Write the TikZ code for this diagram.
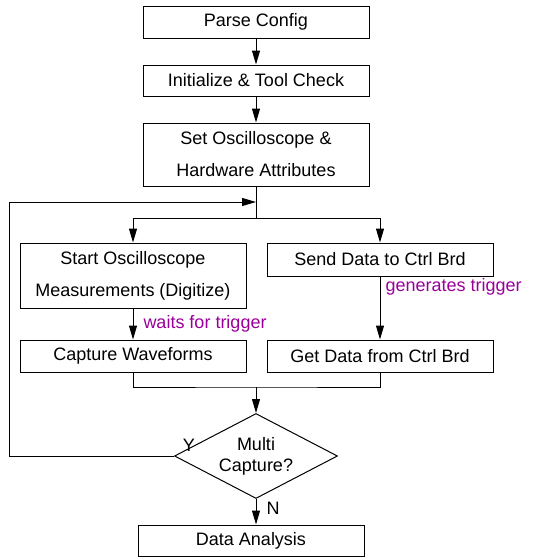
\documentclass[tikz,border=0pt]{standalone}
\usepackage{fontspec}
\setmainfont{Liberation Sans}
\usetikzlibrary{shapes.geometric,arrows.meta}
\definecolor{notecol}{RGB}{153,0,153}
\begin{document}
\begin{tikzpicture}[x=1pt,y=-1pt,line width=1pt,
  box/.style={draw,rectangle,minimum width=226pt,inner sep=0pt,align=center,font=\fontsize{18}{32}\selectfont},
  arr/.style={-{Triangle[length=14pt,width=8pt]}},
  lbl/.style={font=\fontsize{18}{22}\selectfont,inner sep=0pt},
  notelbl/.style={lbl,text=notecol,anchor=west}]
\useasboundingbox (0,0) rectangle (538,557);
\node[box,minimum height=32pt] (parse) at (256,22) {Parse Config};
\node[box,minimum height=31pt] (init) at (256,80.5) {Initialize \& Tool Check};
\node[box,minimum height=63pt] (set) at (256,154.5) {Set Oscilloscope \&\\Hardware Attributes};
\node[box,minimum height=65pt] (start) at (133,275.5) {Start Oscilloscope\\Measurements (Digitize)};
\node[box,minimum height=33pt] (send) at (380,259.5) {Send Data to Ctrl Brd};
\node[box,minimum height=32pt] (cap) at (133,356) {Capture Waveforms};
\node[box,minimum height=32pt] (get) at (380,356) {Get Data from Ctrl Brd};
\node[draw,diamond,aspect=1.92,minimum width=163pt,minimum height=85pt,inner sep=0pt,align=center,font=\fontsize{18}{21}\selectfont] (dec) at (256,456) {Multi\\Capture?};
\node[box,minimum height=31pt] (da) at (251,540.5) {Data Analysis};

\coordinate (split) at (256,218);
\coordinate (loopin) at (256,202);
\coordinate (join) at (256,387);
\coordinate (lb) at (9,456);
\coordinate (lt) at (9,202);

\draw[arr] (parse.south) -- (init.north);
\draw[arr] (init.south) -- (set.north);
\draw (set.south) -- (split);
\draw[arr] (split) -| (start.north);
\draw[arr] (split) -| (send.north);
\draw[arr] (start.south) -- node[notelbl,pos=0.5,xshift=10pt] (w) {waits for trigger} (cap.north);
\draw[arr] (send.south) -- (get.north);
\node[notelbl] (g) at (385,287) {generates trigger};
\draw (cap.south) |- (join) -| (get.south);
\draw[arr] (join) -- (dec.north);
\draw[arr] (dec.west) -- (lb) -- (lt) -- (loopin);
\draw[arr] (dec.south) -- (dec.south |- da.north);
\node[lbl] (y) at (189,445) {Y};
\node[lbl,anchor=west] (n) at (266,508) {N};
\end{tikzpicture}
\end{document}
